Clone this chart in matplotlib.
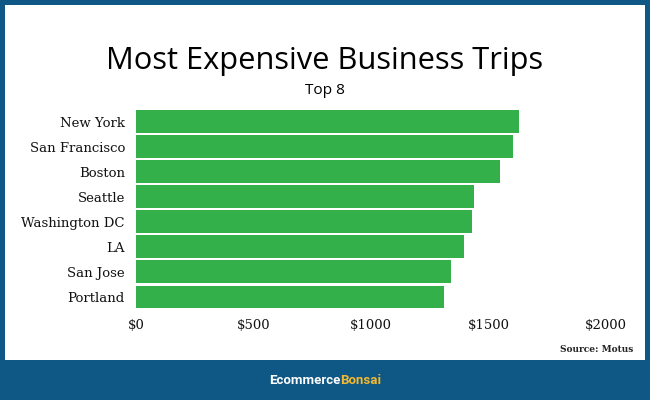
import matplotlib
matplotlib.use("Agg")
import matplotlib.pyplot as plt
from matplotlib.patches import Rectangle

cities = ["New York", "San Francisco", "Boston", "Seattle", "Washington DC",
          "LA", "San Jose", "Portland"]
costs = [1631, 1603, 1550, 1440, 1428, 1394, 1342, 1311]
tick_values = [0, 500, 1000, 1500, 2000]
tick_labels = ["$0", "$500", "$1000", "$1500", "$2000"]

W, H = 650, 400
fig = plt.figure(figsize=(W / 100, H / 100), dpi=100)
blue = "#0f5784"
fig.patch.set_facecolor(blue)
fig.add_artist(Rectangle((5 / W, 40 / H), 640 / W, 355 / H, transform=fig.transFigure,
                         facecolor="white", edgecolor="none", zorder=0))

ax = fig.add_axes([136 / W, 1 - 309.5 / H, 470 / W, 200.5 / H])
ax.set_facecolor("none")
ypos = list(range(len(cities)))
ax.barh(ypos, costs, height=0.915, color="#34b04b", zorder=2)
ax.set_ylim(len(cities) - 0.5, -0.5)
ax.set_xlim(0, 2000)
ax.set_yticks(ypos)
ax.set_yticklabels(cities, fontfamily="DejaVu Serif", fontsize=9.5, color="#111111")
ax.set_xticks(tick_values)
ax.set_xticklabels(tick_labels, fontfamily="DejaVu Serif", fontsize=9.5, color="#111111")
ax.tick_params(axis="both", length=0)
ax.tick_params(axis="x", pad=7)
ax.tick_params(axis="y", pad=8)
for s in ax.spines.values():
    s.set_visible(False)

title = fig.text(325 / W, 1 - 68.5 / H, "Most Expensive Business Trips", ha="center",
                 va="baseline", fontsize=22, fontfamily="Open Sans", color="#000000")
sub = fig.text(325 / W, 1 - 94.5 / H, "Top 8", ha="center", va="baseline",
               fontsize=10.5, fontfamily="Open Sans", color="#000000")
fig.text(633 / W, 1 - 349 / H, "Source: Motus", ha="right", va="center",
         fontsize=6.5, fontfamily="DejaVu Serif", fontweight="bold", color="#222222")

t1 = fig.text(325 / W, 1 - 380 / H, "Ecommerce", ha="right", va="center",
              fontsize=9.5, fontfamily="Roboto", fontweight="bold", color="white")
t2 = fig.text(325 / W, 1 - 380 / H, "Bonsai", ha="left", va="center",
              fontsize=9.5, fontfamily="Roboto", fontweight="bold", color="#f2b830")
fig.canvas.draw()
r = fig.canvas.get_renderer()
for t, target in ((title, 438.0), (sub, 40.0)):
    w = t.get_window_extent(r).width
    t.set_fontsize(t.get_fontsize() * target / w)
fig.canvas.draw()
w1 = t1.get_window_extent(r).width
w2 = t2.get_window_extent(r).width
start = 325 - (w1 + w2) / 2
t1.set_ha("left")
t1.set_x(start / W)
t2.set_x((start + w1) / W)

fig.savefig("out.png", dpi=100, facecolor=fig.get_facecolor())
